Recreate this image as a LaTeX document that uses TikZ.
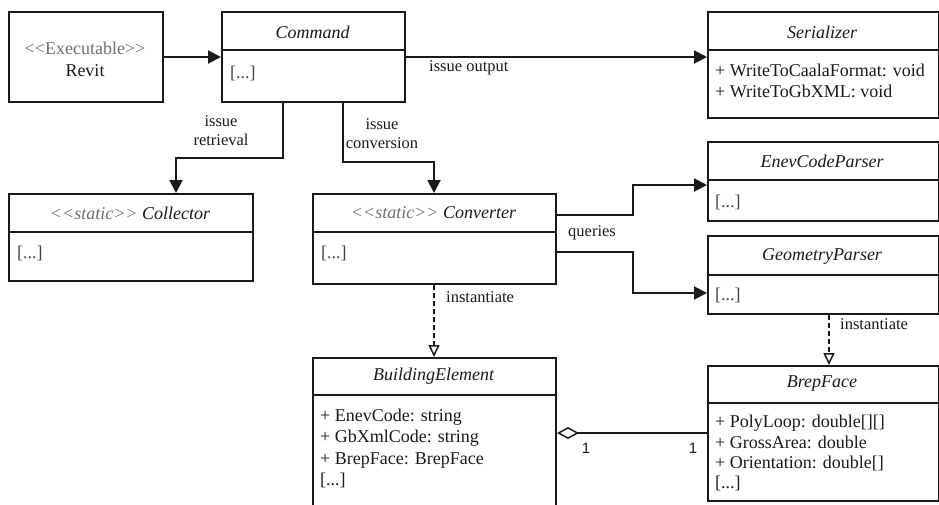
\documentclass[tikz,border=0pt]{standalone}
\usepackage{fontspec}
\setmainfont{Liberation Serif}
\newfontfamily\onesans{Liberation Sans}
\usetikzlibrary{arrows.meta,calc}
\definecolor{txt}{HTML}{1A1A1A}
\definecolor{stereo}{HTML}{707070}
\definecolor{ell}{HTML}{3A4450}
\newcommand\stl[1]{{\color{stereo}<\kern0pt<#1>\kern0pt>}}
\begin{document}
\begin{tikzpicture}[x=1pt,y=-1pt,
  box/.style={draw=txt,line width=2pt,inner sep=0pt,anchor=north west},
  divider/.style={draw=txt,line width=2pt},
  ttl/.style={font=\fontsize{18}{21}\selectfont\itshape,text=txt,inner sep=0pt},
  mem/.style={font=\fontsize{18}{21}\selectfont,text=txt,inner sep=0pt,anchor=west,text height=13pt,text depth=4pt},
  lbl/.style={font=\fontsize{16.5}{19}\selectfont,text=txt,inner sep=0pt},
  arr/.style={draw=txt,line width=2pt,-{Triangle[length=13pt,width=13pt]}},
  dep/.style={draw=txt,line width=1.8pt,dash pattern=on 5pt off 3pt,-{Triangle[open,length=12pt,width=11pt,line width=1.5pt]}},
  agg/.style={draw=txt,line width=1.5pt,{Diamond[open,length=22pt,width=12pt,line width=1.5pt]}-}
]
\useasboundingbox (0,0) rectangle (939,504);

% Revit
\node[box,minimum width=154pt,minimum height=90pt] (revit) at (8,11) {};
\node[font=\fontsize{18}{22}\selectfont,text=txt,align=center,inner sep=0pt] (revittxt) at (85,59) {\stl{Executable}\\Revit};

% Command
\node[box,minimum width=183pt,minimum height=90pt] (cmd) at (221,11) {};
\draw[divider] ($(cmd.north west)+(0,39)$) -- ($(cmd.north east)+(0,39)$);
\node[ttl] (cmdt) at (312.5,32) {Command};
\node[mem,text=ell] (cmdm) at (230,74) {[...]};

% Serializer
\node[box,minimum width=231pt,minimum height=106pt] (ser) at (707,11) {};
\draw[divider] ($(ser.north west)+(0,39)$) -- ($(ser.north east)+(0,39)$);
\node[ttl] (sert) at (822,32) {Serializer};
\node[mem] (ser1) at (715,72) {+ WriteToCaalaFormat: void};
\node[mem] (ser2) at (715,93) {+ WriteToGbXML: void};

% EnevCodeParser
\node[box,minimum width=231pt,minimum height=79pt] (enev) at (707,141) {};
\draw[divider] ($(enev.north west)+(0,39)$) -- ($(enev.north east)+(0,39)$);
\node[ttl] (enevt) at (822,161) {EnevCodeParser};
\node[mem,text=ell] (enevm) at (715,203) {[...]};

% GeometryParser
\node[box,minimum width=231pt,minimum height=78pt] (geo) at (707,235) {};
\draw[divider] ($(geo.north west)+(0,40)$) -- ($(geo.north east)+(0,40)$);
\node[ttl] (geot) at (822,256) {GeometryParser};
\node[mem,text=ell] (geom) at (715,296) {[...]};

% Collector
\node[box,minimum width=244pt,minimum height=87pt] (col) at (8,193) {};
\draw[divider] ($(col.north west)+(0,39)$) -- ($(col.north east)+(0,39)$);
\node[ttl] (colt) at (130,213) {\stl{static} Collector};
\node[mem,text=ell] (colm) at (17,254) {[...]};

% Converter
\node[box,minimum width=243pt,minimum height=90pt] (conv) at (312,193) {};
\draw[divider] ($(conv.north west)+(0,39)$) -- ($(conv.north east)+(0,39)$);
\node[ttl] (convt) at (433.5,213) {\stl{static} Converter};
\node[mem,text=ell] (convm) at (321,254) {[...]};

% BuildingElement
\node[box,minimum width=243pt,minimum height=160pt] (be) at (312,357) {};
\draw[divider] ($(be.north west)+(0,38)$) -- ($(be.north east)+(0,38)$);
\node[ttl] (bet) at (433.5,376) {BuildingElement};
\node[mem] (be1) at (320,417) {+ EnevCode: string};
\node[mem] (be2) at (320,438) {+ GbXmlCode: string};
\node[mem] (be3) at (320,460) {+ BrepFace: BrepFace};
\node[mem] (be4) at (320,481) {[...]};

% BrepFace
\node[box,minimum width=231pt,minimum height=135pt] (brep) at (707,365) {};
\draw[divider] ($(brep.north west)+(0,38)$) -- ($(brep.north east)+(0,38)$);
\node[ttl] (brept) at (822,384) {BrepFace};
\node[mem] (br1) at (715,423) {+ PolyLoop: double[][]};
\node[mem] (br2) at (715,444) {+ GrossArea: double};
\node[mem] (br3) at (715,464) {+ Orientation: double[]};
\node[mem] (br4) at (715,484) {[...]};

% connectors
\draw[arr] (revit.east) -- (cmd.west);
\draw[arr] ($(cmd.north east)+(0,46)$) -- ($(ser.north west)+(0,46)$);
\node[lbl,anchor=west] (lout) at (429,68) {issue output};

\draw[arr] ($(cmd.south west)+(62,0)$) |- ($(col.north west)+(168,-35)$) -- ($(col.north west)+(168,0)$);
\node[lbl,align=center] (lret) at (221,131) {issue\\retrieval};

\draw[arr] ($(cmd.south west)+(122,0)$) |- ($(conv.north west)+(122,-31)$) -- ($(conv.north west)+(122,0)$);
\node[lbl,align=center] (lconv) at (382,134) {issue\\conversion};

\draw[arr] ($(conv.north east)+(0,22)$) -- ++(76,0) |- ($(enev.north west)+(0,44)$);
\draw[arr] ($(conv.north east)+(0,59)$) -- ++(76,0) |- ($(geo.north west)+(0,58)$);
\node[lbl,anchor=west] (lq) at (568,233) {queries};

\draw[dep] ($(conv.south west)+(122,0)$) -- ($(be.north west)+(122,0)$);
\node[lbl,anchor=west] (li1) at (446,297) {instantiate};

\draw[dep] ($(geo.south west)+(122,0)$) -- ($(brep.north west)+(122,0)$);
\node[lbl,anchor=west] (li2) at (840,324) {instantiate};

\draw[agg] ($(be.north east)+(0,76)$) -- ($(brep.north west)+(0,68)$);
\node[font=\onesans\fontsize{15}{18}\selectfont,text=txt,inner sep=0pt] (m1) at (586,448) {1};
\node[font=\onesans\fontsize{15}{18}\selectfont,text=txt,inner sep=0pt] (m2) at (693,448) {1};
\end{tikzpicture}
\end{document}
